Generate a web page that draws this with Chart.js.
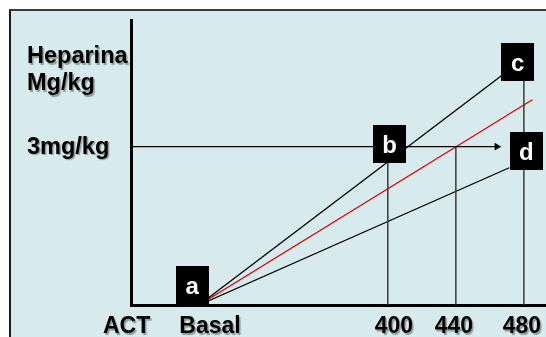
<!DOCTYPE html>
<html><head><meta charset="utf-8">
<script src="https://cdn.jsdelivr.net/npm/chart.js@4.4.1/dist/chart.umd.min.js"></script>
<style>
html,body{margin:0;padding:0;background:#fff;width:546px;height:337px;overflow:hidden;}
#frame{position:absolute;left:9px;top:9px;width:600px;height:400px;background:#d7ebee;border-top:2px solid #3a3a3a;border-left:2px solid #1a1a1a;}
#wrap{position:absolute;left:0;top:0;width:546px;height:337px;}
</style></head><body>
<div id="frame"></div>
<div id="wrap"><canvas id="c" width="546" height="337"></canvas></div>
<script>
// ---- data (ACT on x, heparin dose mg/kg on y) ----
const xLabelValues = [289, 400, 440, 480];
const xLabels = ['Basal', '400', '440', '480'];
const axisTitleX = 'ACT';
const yLabels = ['Heparina', 'Mg/kg'];
const doseLabel = '3mg/kg';
const doseValue = 3;

const upperX = [289, 466.6];
const upperY = [0, 4.34];
const redX = [289, 485];
const redY = [0, 3.89];
const lowerX = [289, 471.4];
const lowerY = [0, 2.60];

const dropX = [400, 440, 480];
const dropTop = [3, 3, 4.3];

const arrowX = [249, 464.1];

const markerNames = ['a', 'b', 'c', 'd'];
const markerX = [284.9, 401.1, 476.4, 481.4];
const markerY = [0.37, 3.05, 4.61, 2.91];

// ---- layout / style ----
const X_MIN = 249, X_MAX = 493, Y_MIN = 0, Y_MAX = 5.4;
const BOX_W = 33, BOX_H = 38;
const xLabelShift = [11, 6, -2, -2];
const FONT = '"Liberation Sans", Arial, sans-serif';

const pts = (xs, ys) => xs.map((x, i) => ({x, y: ys[i]}));
const lineDs = (data, color, w) => ({
  data, showLine: true, borderColor: color, borderWidth: w,
  pointRadius: 0, fill: false
});

const datasets = [];
datasets.push(lineDs(pts(arrowX, [doseValue, doseValue]), '#000', 1.3));
datasets[0].pointRadius = [0, 4.4];
datasets[0].pointStyle = 'triangle';
datasets[0].rotation = 90;
datasets[0].pointBackgroundColor = '#000';
datasets[0].pointBorderColor = '#000';
datasets[0].pointBorderWidth = 0;
dropX.forEach((x, i) => datasets.push(lineDs(pts([x, x], [0, dropTop[i]]), '#3a3a3a', 1.5)));
datasets.push(lineDs(pts(upperX, upperY), '#000', 1.3));
datasets.push(lineDs(pts(lowerX, lowerY), '#000', 1.3));
datasets.push(lineDs(pts(redX, redY), '#dd0000', 1.3));

const schema = {
  id: 'schema',
  afterDatasetsDraw(chart) {
    const ctx = chart.ctx, xs = chart.scales.x, ys = chart.scales.y;
    ctx.save();
    // boxes
    markerNames.forEach((n, i) => {
      const px = xs.getPixelForValue(markerX[i]);
      const py = ys.getPixelForValue(markerY[i]);
      ctx.fillStyle = '#000';
      ctx.fillRect(Math.round(px - BOX_W / 2), Math.round(py - BOX_H / 2), BOX_W, BOX_H);
      ctx.fillStyle = '#fff';
      ctx.font = 'bold 24px ' + FONT;
      ctx.textAlign = 'center';
      ctx.textBaseline = 'alphabetic';
      ctx.fillText(n, px, py + 9);
    });
    // texts with soft shadow
    ctx.shadowColor = 'rgba(0,0,0,0.35)';
    ctx.shadowOffsetX = 1.5;
    ctx.shadowOffsetY = 1.5;
    ctx.shadowBlur = 1;
    ctx.fillStyle = '#000';
    ctx.textBaseline = 'alphabetic';
    ctx.font = 'bold 23.5px ' + FONT;
    ctx.textAlign = 'left';
    ctx.fillText(yLabels[0], 27, 63);
    ctx.fillText(yLabels[1], 27, 90);
    ctx.fillText(doseLabel, 27, ys.getPixelForValue(doseValue) + 7);
    ctx.font = 'bold 23px ' + FONT;
    ctx.fillText(axisTitleX, 103, 333);
    ctx.textAlign = 'center';
    xLabelValues.forEach((v, i) => {
      ctx.fillText(xLabels[i], xs.getPixelForValue(v) + xLabelShift[i], 333);
    });
    ctx.restore();
  }
};

new Chart(document.getElementById('c'), {
  type: 'scatter',
  data: { datasets },
  options: {
    responsive: false,
    animation: false,
    events: [],
    layout: { autoPadding: false, padding: { left: 131, top: 20, right: 0, bottom: 32 } },
    plugins: { legend: { display: false }, tooltip: { enabled: false } },
    scales: {
      x: {
        type: 'linear', min: X_MIN, max: X_MAX,
        grid: { display: false, drawTicks: false },
        ticks: { display: false },
        border: { display: true, width: 3, color: '#000' }
      },
      y: {
        type: 'linear', min: Y_MIN, max: Y_MAX,
        grid: { display: false, drawTicks: false },
        ticks: { display: false },
        border: { display: true, width: 3, color: '#000' }
      }
    }
  },
  plugins: [schema]
});
</script>
</body></html>
